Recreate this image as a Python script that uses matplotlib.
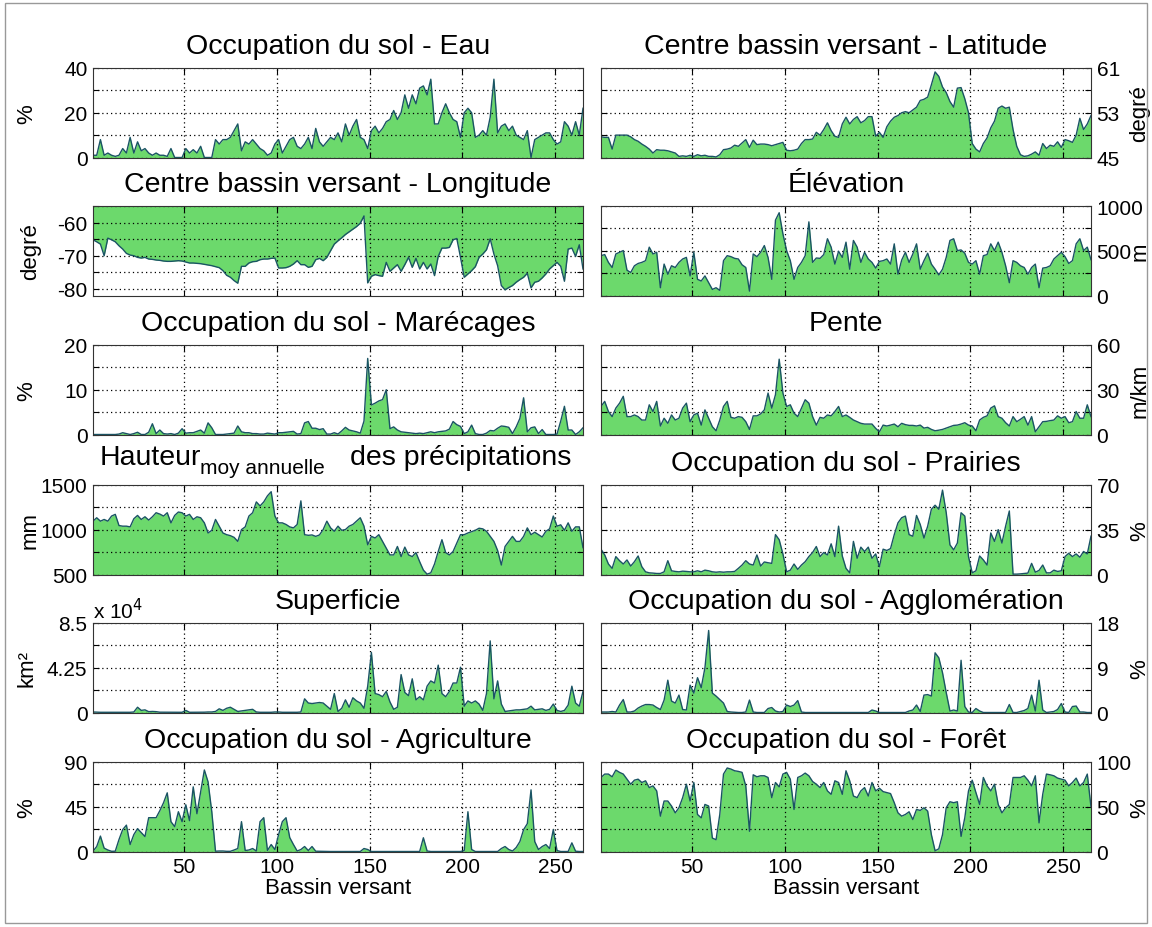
import numpy as np
import matplotlib
matplotlib.use('Agg')
import matplotlib.pyplot as plt
from matplotlib.patches import Rectangle

plt.rcParams['font.family'] = ['Liberation Sans', 'DejaVu Sans']

# one value every second basin (1, 3, 5, ..., 265)
eau = [1, 1, 8, 1, 2, 1, 0.5, 1, 4, 2,
       9, 2, 7, 3, 4, 2, 1, 2, 1, 1,
       0.5, 4, 0, 0, 0, 4, 2, 3.5, 2, 5,
       0, 0, 0, 8, 6, 8, 8, 9, 12, 15,
       3, 7, 6, 8, 6, 4, 3, 1, 2, 6,
       8, 2, 5, 8, 9, 5, 4, 6, 9, 4,
       13, 7, 5, 7, 9, 8, 11, 7, 15, 10,
       14, 17, 9, 8, 4, 12, 14, 11, 13, 16,
       17, 21, 17, 20, 28, 22, 28, 24, 31, 32,
       28, 35, 15, 15, 20, 24, 20, 17, 16, 9,
       20, 22, 20, 9, 10, 12, 10, 18, 35, 11,
       14, 15, 12, 14, 10, 9, 8, 12, 0, 8,
       9, 10, 11, 11, 8, 6, 7, 16, 14, 10,
       16, 10, 22]

latitude = [48.7, 48.6, 48.6, 46.5, 49, 49, 49, 49, 48.7, 48.2,
            47.9, 47.4, 47, 46.5, 45.8, 46.4, 46.3, 46.3, 46.2, 46,
            45.8, 45.2, 45.3, 45.2, 45.4, 45.2, 45.5, 45.3, 45.4, 45.2,
            45.2, 45.1, 45.5, 46.4, 46.5, 46.7, 47.2, 47, 47.6, 48.2,
            46.8, 48.1, 47.3, 47.4, 47.4, 47.3, 47.1, 47.3, 47.5, 47.7,
            46.3, 46.2, 46.3, 46.5, 47.5, 48.2, 48.2, 48.3, 49.5, 49,
            50, 51.2, 49.8, 48.8, 48.6, 51, 52.2, 51, 51.8, 52.3,
            51.2, 51.6, 52.3, 52.3, 48.8, 49.5, 48.6, 50.5, 51.5, 52.2,
            52.5, 53, 53.2, 53, 53.5, 54, 55.2, 55.4, 55.8, 58,
            60.3, 59.5, 57.6, 56.6, 55, 54, 57.4, 57.5, 55.5, 53,
            47.5, 46.5, 46, 47.5, 48.5, 50.3, 51.5, 53.8, 54.2, 53.8,
            54, 50, 47, 45.5, 45.2, 45.3, 45.6, 46, 45.4, 47.5,
            46.6, 47.2, 47, 47.8, 46.8, 48.2, 48, 47.7, 49, 52,
            50, 51, 52.5]

longitude = [-65.2, -65.8, -66.5, -70, -64.7, -65.2, -65.8, -67, -68, -69.3,
             -69.8, -70, -70.5, -70.7, -70.5, -71, -71.1, -71.3, -71.4, -71.6,
             -71.7, -71.7, -71.6, -71.5, -71.6, -71.9, -72.2, -72.2, -72.3, -72.4,
             -72.6, -72.8, -73, -73.3, -73.6, -74.5, -75.9, -76.5, -77.5, -78.3,
             -73.2, -73.2, -72.2, -71.8, -71.7, -71.2, -71, -71, -70.8, -70.7,
             -73.7, -73.7, -73.6, -73.2, -72.5, -71.5, -72.7, -72.7, -73.5, -73.2,
             -71.2, -70.8, -71.5, -70.5, -68.5, -66.5, -65.5, -64.6, -63.6, -62.8,
             -62, -61.2, -60.2, -58, -78.2, -76.2, -75.7, -76, -76.2, -72,
             -74.7, -73.7, -72.7, -74.7, -72.7, -70.5, -73.5, -70.8, -74, -72,
             -74, -72.5, -76, -70.2, -67.7, -67.7, -67.5, -65.2, -64.8, -70.5,
             -76.5, -75.5, -74.5, -73.3, -70.5, -69.5, -68.2, -64.9, -69.5, -73,
             -79, -80.3, -79.6, -79, -78, -77.2, -76.5, -75.3, -79.7, -78,
             -77.7, -76.7, -75.5, -74, -73, -72, -73.2, -77.7, -68, -67.7,
             -70.2, -66.7, -74]

elevation = [445, 457, 370, 313, 464, 483, 502, 283, 257, 332,
             358, 370, 389, 540, 464, 483, 87, 351, 238, 332,
             313, 370, 408, 426, 219, 483, 181, 162, 219, 143,
             68, 87, 57, 389, 445, 434, 415, 408, 343, 313,
             49, 464, 434, 483, 558, 426, 181, 842, 925, 690,
             502, 389, 181, 313, 370, 445, 823, 370, 419, 415,
             457, 634, 540, 351, 494, 426, 596, 294, 615, 540,
             370, 483, 408, 370, 306, 381, 389, 408, 351, 577,
             238, 396, 483, 370, 464, 577, 294, 389, 472, 351,
             294, 230, 294, 426, 615, 634, 502, 509, 472, 370,
             351, 389, 238, 445, 457, 577, 502, 596, 483, 332,
             143, 389, 370, 332, 313, 238, 313, 351, 87, 306,
             313, 332, 408, 445, 483, 434, 358, 389, 577, 634,
             502, 540, 400]

marecages = [0, 0, 0, 0, 0, 0, 0, 0.1, 0.4, 0.2,
             0, 0.2, 0.5, 0, 0, 0.5, 2.4, 0.2, 1, 0.2,
             0.1, 0.2, 0, 0.3, 1.3, 0.3, 0.4, 0.4, 0.7, 1,
             0.3, 2.6, 1.5, 0, 0, 0, 0.1, 0.2, 0.3, 1.9,
             0.6, 0.4, 0.4, 0.2, 0.2, 0.1, 0.1, 0.3, 0.2, 0.1,
             0.4, 0.4, 0.5, 0.6, 0.7, 0.1, 0.2, 2.6, 2.9, 1.4,
             1.4, 1.1, 1.3, 0.1, 0.1, 0.4, 0.1, 0.8, 1.6, 1,
             0.8, 0.6, 0.3, 3, 17, 6.6, 7, 7.5, 7.8, 10,
             1.3, 1.7, 1.0, 0.6, 0.5, 0.4, 0.3, 0.2, 0.3, 0.2,
             0.4, 0.6, 0.4, 0.6, 0.7, 0.8, 1.2, 2.9, 2.2, 1.8,
             0.2, 0.6, 2.1, 0.2, 0, 0, 0.3, 0.9, 0.8, 1.4,
             1.9, 1.8, 1.6, 0.2, 1.7, 3.6, 8.2, 0.6, 1.5, 1.7,
             0.2, 1.1, 0, 0, 0, 0.1, 3, 6.3, 1, 1,
             0, 0.6, 1.5]

pente = [18.8, 22.2, 15.4, 12, 17.7, 21, 25.6, 12, 12, 13.1,
         12, 9.7, 9.7, 19.9, 15.4, 22.2, 5.7, 10.9, 7.5, 13.1,
         9.7, 10.9, 17.7, 21, 8.6, 13.1, 14.3, 6.3, 16.5, 10.9,
         5.2, 2.5, 9.7, 18.8, 22.2, 11.5, 10.9, 12, 11.5, 8.6,
         3.4, 12.5, 12.5, 13.8, 16.5, 27.8, 17.7, 26.7, 50.5, 27.8,
         18.8, 19.9, 14.3, 12, 17.7, 23.3, 21, 12, 6.3, 11.5,
         10.9, 13.1, 12.5, 15.4, 18.8, 12, 13.1, 11.5, 9.7, 8.6,
         7.5, 7, 7, 7, 4.1, 1.8, 6.3, 5.7, 6.3, 7,
         5.2, 7.5, 6.6, 6.1, 6.1, 5.7, 6.3, 4.3, 4.8, 3.4,
         2.5, 2.9, 3.4, 4.3, 5.2, 6.1, 6.3, 7, 7.9, 6.3,
         5.7, 2.5, 9.7, 11.5, 12.5, 17.7, 19.2, 12, 10.9, 7.9,
         5.7, 12, 8.6, 10.2, 12, 6.3, 12, 1.8, 5.2, 8.6,
         8.8, 9.3, 9.7, 12.5, 10.9, 12, 7.9, 8.6, 15.4, 10.9,
         10.9, 19.9, 12]

precip = [1096, 1134, 1096, 1115, 1096, 1153, 1172, 1047, 1040, 1040,
          1032, 1123, 1160, 1115, 1145, 1108, 1145, 1190, 1175, 1153,
          1190, 1077, 1160, 1198, 1190, 1153, 1172, 1115, 1145, 1134,
          1077, 964, 994, 1115, 1040, 964, 945, 934, 915, 870,
          1002, 1032, 1153, 1190, 1311, 1266, 1311, 1379, 1425, 1153,
          1077, 1077, 1059, 1032, 1021, 1059, 1323, 945, 938, 942,
          926, 942, 1002, 1096, 1021, 983, 1040, 994, 1002, 1040,
          1059, 1096, 1134, 1040, 832, 926, 908, 945, 870, 794,
          719, 719, 813, 700, 806, 719, 700, 745, 643, 549,
          504, 519, 617, 757, 889, 745, 719, 757, 851, 945,
          945, 964, 979, 994, 1017, 1010, 983, 926, 870, 768,
          606, 813, 870, 926, 870, 870, 926, 1021, 945, 972,
          945, 919, 983, 1010, 1153, 1040, 1055, 994, 1077, 983,
          1032, 1032, 800]

prairies = [19.8, 15.3, 8.2, 4.8, 14, 10.8, 8.2, 11.4, 6.6, 10,
            14.5, 6.1, 2.1, 1.3, 1.1, 0.8, 0.8, 2.1, 10.8, 2.9,
            2.4, 2.1, 2.6, 2.4, 2.1, 2.1, 2.9, 2.1, 3.4, 2.9,
            2.1, 1.8, 2.1, 1.8, 2.1, 2.1, 2.4, 4.8, 7.4, 10.8,
            8.2, 7.4, 15.3, 6.6, 9.8, 9.2, 8.7, 31.2, 27.2, 16.1,
            2.1, 3.4, 8.2, 4, 7.4, 10, 14, 17.2, 21.9, 14,
            17.2, 15.3, 24, 14, 37.8, 14.5, 4.8, 1.3, 25.9, 12.7,
            21.4, 18, 21.4, 12.7, 16.1, 6.1, 19.8, 18.8, 20.3, 31.2,
            40.4, 44.4, 45.7, 31.2, 29.9, 46.2, 39.1, 28.5, 37.8, 51,
            54.2, 51, 66, 48.3, 23.2, 19.3, 24.6, 48.3, 45.7, 14,
            1.3, 2.9, 14.5, 11.4, 7.4, 32.5, 25.9, 35.1, 24.6, 37.8,
            49.7, 0.3, 0.3, 0.5, 0.8, 1.1, 8.7, 1.8, 3.2, 7.4,
            1.3, 1.3, 3.4, 2.4, 2.9, 14, 16.6, 14, 16.1, 13.5,
            18, 16.1, 30]

# superficie in units of 10^4 km2
superficie = [0.05, 0.03, 0.02, 0.02, 0.02, 0.03, 0.03, 0.02, 0.02, 0.02,
              0.02, 0.05, 0.5, 0.2, 0.25, 0.08, 0.1, 0.08, 0.03, 0.03,
              0.02, 0.02, 0.02, 0.02, 0.02, 0.2, 0.02, 0.02, 0.02, 0.02,
              0.03, 0.05, 0.05, 0.1, 0.35, 0.2, 0.4, 0.5, 0.3, 0.1,
              0.15, 0.2, 0.25, 0.3, 0.05, 0.02, 0.02, 0.02, 0.02, 0.05,
              0.05, 0.02, 0.02, 0.02, 0.02, 0.02, 0.05, 1.3, 0.9, 0.85,
              0.9, 0.95, 0.9, 0.6, 0.3, 1.8, 0.1, 0.4, 1.2, 0.5,
              1.4, 1.1, 0.9, 0.4, 2.5, 5.7, 1.8, 1.7, 1.5, 2.0,
              1.0, 0.3, 0.5, 3.6, 1.9, 1.6, 3.2, 1.2, 1.5, 1.2,
              2.5, 3.0, 2.8, 4.5, 1.8, 1.5, 2.0, 2.8, 2.8, 4.3,
              0.6, 1.1, 0.9, 1.1, 0.8, 0.2, 1.8, 6.8, 1.3, 3.0,
              0.8, 0.1, 0.15, 0.2, 0.25, 0.25, 0.3, 0.35, 0.6, 0.25,
              0.3, 0.35, 0.2, 0.3, 0.8, 0.2, 0.1, 0.2, 0.7, 2.5,
              0.9, 0.6, 2.0]

agglomeration = [0.1, 0.1, 0.1, 0.2, 0.1, 1.5, 2.6, 0.1, 0.1, 0.3,
                 0.9, 1.3, 1.6, 1.6, 1.5, 1.0, 0.6, 2.5, 6.5, 2.3,
                 1.9, 3.5, 0.6, 0.5, 5.5, 3.9, 7.0, 5.0, 9.0, 16.5,
                 3.9, 3.3, 2.6, 1.9, 0.2, 0.1, 0.05, 0, 0, 0.1,
                 2.5, 0.1, 0, 0, 0, 0.8, 1.0, 0.3, 0.1, 0.2,
                 1.5, 1.2, 1.5, 2.4, 0.1, 0, 0, 0, 0, 0,
                 0, 0, 0, 0, 0, 0, 0, 0, 0, 0,
                 0, 0, 0, 0.5, 0.3, 0, 0, 0, 0, 0,
                 0, 0, 0, 0.3, 0.5, 1.5, 0.2, 3.5, 3.6, 3.3,
                 12, 11, 8.0, 4.0, 0.3, 0.5, 0.3, 10.5, 1.2, 0.1,
                 0, 0.8, 0.3, 0, 0, 0, 0, 0, 0, 0,
                 1.6, 0, 0, 0.2, 0.4, 0.8, 3.5, 0.3, 6.5, 0.5,
                 0, 0.1, 0.2, 0.6, 1.8, 0.1, 0, 1.2, 1.3, 0.1,
                 0.1, 0, 0]

agriculture = [0.3, 5, 15.5, 3.4, 1.5, 0.2, 0.3, 12, 22, 26.5,
               7, 17, 23, 19, 15, 34, 34, 34, 41, 49,
               59, 30, 25, 40, 30, 47, 31, 65, 38, 60,
               82, 70, 40, 0.3, 0.5, 0.5, 0.2, 0.2, 1.5, 3,
               30, 1, 1.5, 3, 0.5, 30, 34, 1, 7, 2,
               17, 30, 34, 14, 7, 0.5, 2, 5, 1, 5,
               0.3, 0.2, 0.1, 0, 0, 0, 0, 0, 0, 0,
               0, 0, 0, 3, 2, 0, 0, 0, 0, 0,
               0, 0, 0, 0, 0, 0, 0, 0, 0, 13.8,
               0.5, 0, 0, 0, 0, 0, 0, 0, 0, 0,
               1, 40, 2, 0, 0, 0, 0, 0, 0, 0,
               3, 5, 2, 0.5, 4, 10, 22, 28, 62, 10,
               2, 5, 7, 3, 22, 1, 0, 0, 0, 8.7,
               0.3, 0, 0]

foret = [82.7, 86.5, 86.5, 83.5, 91, 88.4, 86.5, 80.8, 75.2, 79.7,
         80.8, 77.1, 79, 71.4, 73.3, 67.7, 39.5, 56.4, 56.4, 50.8,
         43.2, 48.9, 60.2, 75.2, 56.4, 77.1, 41.4, 37.6, 52.6, 50.8,
         15, 13.2, 41.4, 86.5, 93.3, 92.1, 90.2, 89.5, 88.4, 73.3,
         22.6, 85.7, 83.5, 84.6, 84.6, 82.7, 60.2, 77.1, 72.2, 86.5,
         88.4, 80.8, 47, 82.7, 84.6, 87.6, 84.6, 78.2, 75.2, 71.4,
         77.1, 67.7, 63.9, 79, 77.1, 63.9, 90.2, 79, 62, 60.2,
         67.7, 71.4, 62, 77.1, 67.7, 70.7, 66.9, 65.8, 64.7, 54.5,
         43.2, 39.5, 41.4, 44.4, 35.7, 47, 45.9, 48.9, 45.1, 18.8,
         0.8, 3, 18.8, 48.9, 55.6, 54.5, 55.6, 16.9, 37.6, 67.7,
         79.7, 65.8, 52.6, 82.7, 73.3, 67.7, 75.2, 52.6, 43.2, 48.9,
         52.6, 82.7, 82.7, 82.7, 84.6, 79.7, 73.3, 84.6, 32, 63.9,
         86.5, 85.7, 84.6, 82, 80.8, 79.7, 73.3, 77.1, 82, 73.3,
         77.1, 86.5, 50]

FILL = '#6cd96c'
EDGE = '#1a5464'

# title, values, ylim, yticks, yticklabels, ylabel, column, row
panels = [
    ('Occupation du sol - Eau', eau, (0, 40), [0, 10, 20, 30, 40],
     ['0', '', '20', '', '40'], '%', 0, 0),
    ('Centre bassin versant - Latitude', latitude, (45, 61), [45, 49, 53, 57, 61],
     ['45', '', '53', '', '61'], 'degré', 1, 0),
    ('Centre bassin versant - Longitude', longitude, (-82, -55), [-80, -75, -70, -65, -60, -55],
     ['-80', '', '-70', '', '-60', ''], 'degré', 0, 1),
    ('Élévation', elevation, (0, 1000), [0, 250, 500, 750, 1000],
     ['0', '', '500', '', '1000'], 'm', 1, 1),
    ('Occupation du sol - Marécages', marecages, (0, 20), [0, 5, 10, 15, 20],
     ['0', '', '10', '', '20'], '%', 0, 2),
    ('Pente', pente, (0, 60), [0, 15, 30, 45, 60],
     ['0', '', '30', '', '60'], 'm/km', 1, 2),
    (None, precip, (500, 1500), [500, 750, 1000, 1250, 1500],
     ['500', '', '1000', '', '1500'], 'mm', 0, 3),
    ('Occupation du sol - Prairies', prairies, (0, 70), [0, 17.5, 35, 52.5, 70],
     ['0', '', '35', '', '70'], '%', 1, 3),
    ('Superficie', superficie, (0, 8.5), [0, 2.125, 4.25, 6.375, 8.5],
     ['0', '', '4.25', '', '8.5'], 'km²', 0, 4),
    ('Occupation du sol - Agglomération', agglomeration, (0, 18), [0, 4.5, 9, 13.5, 18],
     ['0', '', '9', '', '18'], '%', 1, 4),
    ('Occupation du sol - Agriculture', agriculture, (0, 90), [0, 22.5, 45, 67.5, 90],
     ['0', '', '45', '', '90'], '%', 0, 5),
    ('Occupation du sol - Forêt', foret, (0, 100), [0, 25, 50, 75, 100],
     ['0', '', '50', '', '100'], '%', 1, 5),
]

fig = plt.figure(figsize=(11.52, 9.28), dpi=100)
fig.patches.append(Rectangle((0.004, 0.004), 0.992, 0.992, transform=fig.transFigure,
                             fill=False, edgecolor='#999999', linewidth=1))

row_tops = [69, 207, 346, 486, 624, 763]
col_left = [93, 601]
W, H = 490, 89.5

for title, vals, ylim, yt, ytl, ylab, col, row in panels:
    x = np.linspace(1, 265, len(vals))
    ax = fig.add_axes([col_left[col] / 1152, 1 - (row_tops[row] + H) / 928, W / 1152, H / 928])
    ax.fill_between(x, vals, 0, color=FILL, linewidth=0)
    ax.plot(x, vals, color=EDGE, linewidth=1)
    ax.set_xlim(1, 265)
    ax.set_ylim(*ylim)
    ax.set_xticks([50, 100, 150, 200, 250])
    ax.set_yticks(yt)
    ax.set_yticklabels(ytl)
    ax.grid(True, linestyle=(0, (1, 2.5)), color='k', linewidth=0.9)
    ax.tick_params(direction='in', length=4, top=True, right=True, labelsize=15, pad=4)
    for s in ax.spines.values():
        s.set_color('#333333')
    if row < 5:
        ax.set_xticklabels([])
    else:
        ax.set_xlabel('Bassin versant', fontsize=16, labelpad=1)

    if col == 1:
        ax.yaxis.tick_right()
        ax.tick_params(left=True, right=True, labelleft=False, labelright=True)
        ax.yaxis.set_label_position('right')
        ax.set_ylabel(ylab, fontsize=16, va='center', rotation=90)
        ax.yaxis.set_label_coords(1.1, 0.5)
    else:
        ax.set_ylabel(ylab, fontsize=16, va='center', rotation=90)
        ax.yaxis.set_label_coords(-0.128 if ylab in ('mm', 'degré') else -0.135, 0.5)

    if title is not None:
        ax.set_title(title, fontsize=20.5, pad=11)
    else:
        ax.text(0.014, 1.235, 'Hauteur', transform=ax.transAxes, fontsize=20.5, va='baseline')
        ax.text(0.218, 1.13, 'moy annuelle', transform=ax.transAxes, fontsize=15, va='baseline')
        ax.text(0.524, 1.235, 'des précipitations', transform=ax.transAxes, fontsize=20.5, va='baseline')
    if ylab == 'km²':
        ax.text(0.0, 1.01, r'x 10$^{4}$', transform=ax.transAxes, fontsize=15, va='bottom')

fig.savefig('out.png', dpi=100)
